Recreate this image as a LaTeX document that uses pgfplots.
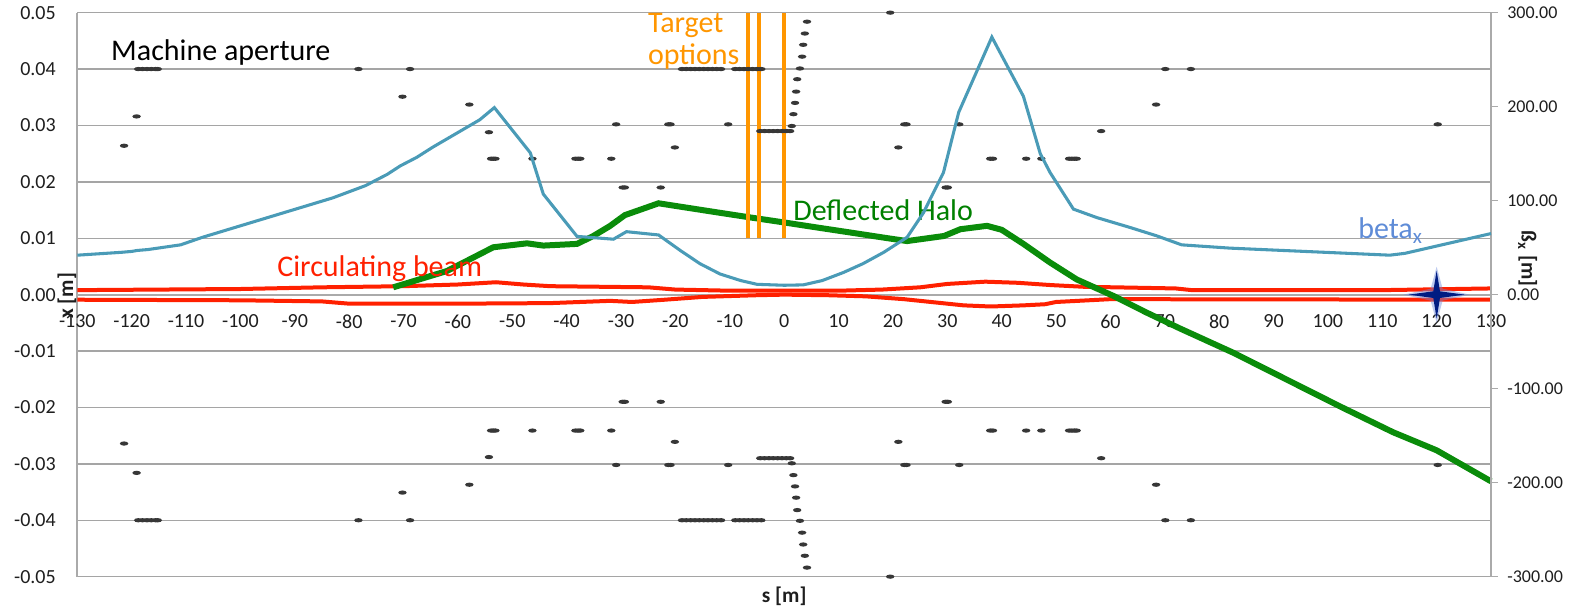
\documentclass[border=0pt]{standalone}
\usepackage{fontspec}
\setmainfont{Carlito}
\usepackage{pgfplots}
\pgfplotsset{compat=1.18}

\definecolor{betacol}{RGB}{74,155,183}
\definecolor{redcol}{RGB}{255,32,0}
\definecolor{greencol}{RGB}{10,140,10}
\definecolor{orangecol}{RGB}{255,150,0}
\definecolor{gridcol}{RGB}{165,165,165}
\definecolor{axiscol}{RGB}{170,170,170}
\definecolor{textcol}{RGB}{30,30,30}
\definecolor{starcol}{RGB}{0,28,130}
\definecolor{starglow}{RGB}{110,140,220}
\definecolor{betatext}{RGB}{95,140,215}
\definecolor{dotcol}{RGB}{55,55,55}
\definecolor{halotext}{RGB}{0,128,0}

\newcommand{\tickfont}{\fontsize{15}{17}\selectfont}
\newcommand{\rtickfont}{\fontsize{13.5}{15}\selectfont}

\pgfdeclareplotmark{aperdot}{%
  \pgfpathellipse{\pgfpointorigin}{\pgfpoint{3.2pt}{0pt}}{\pgfpoint{0pt}{1.6pt}}%
  \pgfusepathqfill}
\pgfdeclareplotmark{star4}{%
  \pgfpathmoveto{\pgfpoint{0pt}{18pt}}%
  \pgfpathlineto{\pgfpoint{2.5pt}{2.5pt}}%
  \pgfpathlineto{\pgfpoint{21pt}{0pt}}%
  \pgfpathlineto{\pgfpoint{2.5pt}{-2.5pt}}%
  \pgfpathlineto{\pgfpoint{0pt}{-18pt}}%
  \pgfpathlineto{\pgfpoint{-2.5pt}{-2.5pt}}%
  \pgfpathlineto{\pgfpoint{-21pt}{0pt}}%
  \pgfpathlineto{\pgfpoint{-2.5pt}{2.5pt}}%
  \pgfpathclose
  \pgfusepathqfill}
\pgfdeclareplotmark{star4glow}{%
  \pgfpathmoveto{\pgfpoint{0pt}{21pt}}%
  \pgfpathlineto{\pgfpoint{4.5pt}{4.5pt}}%
  \pgfpathlineto{\pgfpoint{25pt}{0pt}}%
  \pgfpathlineto{\pgfpoint{4.5pt}{-4.5pt}}%
  \pgfpathlineto{\pgfpoint{0pt}{-21pt}}%
  \pgfpathlineto{\pgfpoint{-4.5pt}{-4.5pt}}%
  \pgfpathlineto{\pgfpoint{-25pt}{0pt}}%
  \pgfpathlineto{\pgfpoint{-4.5pt}{4.5pt}}%
  \pgfpathclose
  \pgfusepathqfill}

\begin{document}
\begin{tikzpicture}
\path[use as bounding box] (-58pt,-25.5pt) rectangle (1133.05pt,432.5pt);

\begin{axis}[
  at={(0pt,0pt)}, anchor=south west,
  scale only axis, width=1060.3pt, height=423pt,
  xmin=-130, xmax=130, ymin=-0.05, ymax=0.05,
  axis x line*=middle, axis y line*=left,
  axis line style={draw=axiscol, line width=1.5pt, -},
  xtick={-130,-120,-110,-100,-90,-80,-70,-60,-50,-40,-30,-20,-10,0,10,20,30,40,50,60,70,80,90,100,110,120,130},
  ytick={-0.05,-0.04,-0.03,-0.02,-0.01,0,0.01,0.02,0.03,0.04,0.05},
  scaled y ticks=false, scaled x ticks=false,
  major tick length=0pt,
  hide obscured x ticks=false, hide obscured y ticks=false,
  ymajorgrids, grid style={draw=gridcol, line width=1pt},
  /pgf/number format/assume math mode=true,
  xticklabel style={font=\tickfont, text=textcol, inner sep=0pt, yshift=-14.75pt},
  yticklabel style={font=\tickfont, text=textcol, /pgf/number format/fixed, /pgf/number format/fixed zerofill, /pgf/number format/precision=2, inner sep=0pt, xshift=-16pt},
  clip=false,
]
% aperture points
\addplot[only marks, mark=aperdot, color=dotcol] coordinates {
(-121.4,0.0264)(-119.1,0.0316)(-118.8,0.04)(-118.0,0.04)(-117.2,0.04)(-116.4,0.04)(-115.6,0.04)(-115.2,0.04)(-78.3,0.04)(-70.2,0.0351)(-68.8,0.04)(-57.9,0.0337)(-54.3,0.0288)(-53.9,0.0241)(-53.5,0.0241)(-53.1,0.0241)(-46.3,0.0241)(-38.4,0.0241)(-37.9,0.0241)(-37.5,0.0241)(-31.8,0.0241)(-30.9,0.0302)(-29.7,0.019)(-29.3,0.019)(-22.7,0.019)(-21.3,0.0302)(-20.9,0.0302)(-20.1,0.0261)(-10.3,0.0302)
(-18.8,0.04)(-18.0,0.04)(-17.2,0.04)(-16.4,0.04)(-15.6,0.04)(-14.8,0.04)(-14.0,0.04)(-13.2,0.04)(-12.4,0.04)(-11.6,0.04)
(-9.0,0.04)(-8.2,0.04)(-7.4,0.04)(-6.6,0.04)(-5.8,0.04)(-5.0,0.04)(-4.2,0.04)
(-4.4,0.029)(-3.6,0.029)(-2.8,0.029)(-2.0,0.029)(-1.2,0.029)(-0.4,0.029)(0.4,0.029)(1.1,0.029)
(1.4,0.0299)(1.7,0.032)(2.0,0.034)(2.2,0.036)(2.4,0.0382)(2.9,0.0401)(3.3,0.0422)(3.5,0.0443)(3.8,0.0463)(4.2,0.0484)
(19.5,0.05)(21.0,0.0261)(22.1,0.0302)(22.5,0.0302)(29.7,0.019)(30.1,0.019)(32.2,0.0302)(37.9,0.0241)(38.4,0.0241)(44.5,0.0241)(47.3,0.0241)(52.4,0.0241)(52.9,0.0241)(53.4,0.0241)(53.8,0.0241)(58.3,0.029)(68.4,0.0337)(70.1,0.04)(74.8,0.04)(120.2,0.0302)
};
\addplot[only marks, mark=aperdot, color=dotcol] coordinates {
(-121.4,-0.0264)(-119.1,-0.0316)(-118.8,-0.04)(-118.0,-0.04)(-117.2,-0.04)(-116.4,-0.04)(-115.6,-0.04)(-115.2,-0.04)(-78.3,-0.04)(-70.2,-0.0351)(-68.8,-0.04)(-57.9,-0.0337)(-54.3,-0.0288)(-53.9,-0.0241)(-53.5,-0.0241)(-53.1,-0.0241)(-46.3,-0.0241)(-38.4,-0.0241)(-37.9,-0.0241)(-37.5,-0.0241)(-31.8,-0.0241)(-30.9,-0.0302)(-29.7,-0.019)(-29.3,-0.019)(-22.7,-0.019)(-21.3,-0.0302)(-20.9,-0.0302)(-20.1,-0.0261)(-10.3,-0.0302)
(-18.8,-0.04)(-18.0,-0.04)(-17.2,-0.04)(-16.4,-0.04)(-15.6,-0.04)(-14.8,-0.04)(-14.0,-0.04)(-13.2,-0.04)(-12.4,-0.04)(-11.6,-0.04)
(-9.0,-0.04)(-8.2,-0.04)(-7.4,-0.04)(-6.6,-0.04)(-5.8,-0.04)(-5.0,-0.04)(-4.2,-0.04)
(-4.4,-0.029)(-3.6,-0.029)(-2.8,-0.029)(-2.0,-0.029)(-1.2,-0.029)(-0.4,-0.029)(0.4,-0.029)(1.1,-0.029)
(1.4,-0.0299)(1.7,-0.032)(2.0,-0.034)(2.2,-0.036)(2.4,-0.0382)(2.9,-0.0401)(3.3,-0.0422)(3.5,-0.0443)(3.8,-0.0463)(4.2,-0.0484)
(19.5,-0.05)(21.0,-0.0261)(22.1,-0.0302)(22.5,-0.0302)(29.7,-0.019)(30.1,-0.019)(32.2,-0.0302)(37.9,-0.0241)(38.4,-0.0241)(44.5,-0.0241)(47.3,-0.0241)(52.4,-0.0241)(52.9,-0.0241)(53.4,-0.0241)(53.8,-0.0241)(58.3,-0.029)(68.4,-0.0337)(70.1,-0.04)(74.8,-0.04)(120.2,-0.0302)
};
% circulating beam
\addplot[redcol, line width=3pt] coordinates {
(-130,0.0008)(-100,0.0010)(-85,0.0013)(-70,0.0015)(-60,0.0018)(-53,0.0022)(-48,0.0018)(-43,0.0015)(-25,0.0013)(-20,0.0009)(-10,0.0007)(0,0.0007)(10,0.0007)(18,0.0009)(25,0.0013)(30,0.0019)(37,0.0023)(43,0.0021)(49,0.0017)(55,0.0014)(72,0.0011)(75,0.0008)(110,0.0008)(130,0.0011)
};
\addplot[redcol, line width=3pt] coordinates {
(-130,-0.0009)(-100,-0.0010)(-85,-0.0012)(-80,-0.0016)(-60,-0.0016)(-43,-0.0015)(-32,-0.0011)(-28,-0.0013)(-22,-0.0009)(-15,-0.0004)(-5,-0.0001)(0,0.0000)(8,-0.0001)(15,-0.0003)(22,-0.0008)(28,-0.0014)(33,-0.0019)(38,-0.0021)(44,-0.0019)(48,-0.0017)(50,-0.0013)(54,-0.0011)(60,-0.0008)(130,-0.0009)
};
% deflected halo
\addplot[greencol, line width=4.5pt] coordinates {
(-71.9,0.0013)(-62,0.0042)(-53.5,0.0084)(-47.3,0.0091)(-44.3,0.0087)(-38.1,0.0090)(-35.1,0.0104)(-32.0,0.0122)(-29.3,0.0141)(-23.1,0.0162)(-19.1,0.0156)(-12.4,0.0146)(-6.3,0.0137)(0,0.0128)(6.1,0.0119)(12.3,0.0110)(18.4,0.0101)(22.6,0.0095)(29.4,0.0104)(32.4,0.0116)(37.3,0.0122)(40,0.0115)(44.0,0.0090)(48.9,0.0057)(53.8,0.0027)(60.5,-0.0002)(66.7,-0.0032)(72.8,-0.0060)(82.6,-0.0103)(102.2,-0.0198)(112,-0.0244)(120,-0.0276)(130,-0.0331)
};
% target options
\addplot[orangecol, line width=3pt] coordinates {(-6.6,0.01)(-6.6,0.05)};
\addplot[orangecol, line width=3pt] coordinates {(-4.6,0.01)(-4.6,0.05)};
\addplot[orangecol, line width=3pt] coordinates {(0.0,0.01)(0.0,0.05)};
% star
\addplot[only marks, mark=star4glow, color=starglow, opacity=0.45] coordinates {(120,0)};
\addplot[only marks, mark=star4, color=starcol] coordinates {(120,0)};

% texts
\node[anchor=base west, inner sep=0pt, font=\fontsize{22.5}{26}\selectfont, text=black] at (axis description cs:0.0238,0.9149) {Machine aperture};
\node[anchor=base west, inner sep=0pt, font=\fontsize{22.5}{26}\selectfont, text=redcol] at (axis description cs:0.1413,0.5314) {Circulating beam};
\node[anchor=base west, inner sep=0pt, font=\fontsize{22.5}{26}\selectfont, text=orangecol] at (axis description cs:0.4035,0.964) {Target};
\node[anchor=base west, inner sep=0pt, font=\fontsize{22.5}{26}\selectfont, text=orangecol] at (axis description cs:0.4035,0.9078) {options};
\node[anchor=base west, inner sep=0pt, font=\fontsize{22.5}{26}\selectfont, text=halotext] at (axis description cs:0.5063,0.6318) {Deflected Halo};
\node[anchor=base west, inner sep=0pt, font=\fontsize{22.5}{26}\selectfont, text=betatext] at (axis description cs:0.9059,0.5987) {beta\textsubscript{x}};
\node[anchor=base, inner sep=0pt, rotate=90, font=\fontsize{16}{19}\selectfont\bfseries, text=textcol] at (axis description cs:-0.003,0.498) {x [m]};
\node[anchor=base, inner sep=0pt, font=\fontsize{16}{19}\selectfont\bfseries, text=textcol] at (axis description cs:0.5,-0.0466) {s [m]};
\node[anchor=base, inner sep=0pt, rotate=-90, font=\fontsize{16}{19}\selectfont\bfseries, text=textcol] at (axis description cs:1.0217,0.5638) {ß\textsubscript{x} [m]};
\end{axis}

\begin{axis}[
  at={(0pt,0pt)}, anchor=south west,
  scale only axis, width=1060.3pt, height=423pt,
  xmin=-130, xmax=130, ymin=-300, ymax=300,
  axis x line=none, axis y line*=right,
  axis line style={draw=axiscol, line width=1.5pt, -},
  xtick=\empty,
  ytick={-300,-200,-100,0,100,200,300},
  scaled y ticks=false,
  major tick length=5pt, tick align=outside,
  tick style={draw=axiscol, line width=1.2pt},
  /pgf/number format/assume math mode=true,
  yticklabel style={font=\rtickfont, text=textcol, /pgf/number format/fixed, /pgf/number format/fixed zerofill, /pgf/number format/precision=2, inner sep=0pt, xshift=7pt},
  clip=false,
]
\addplot[betacol, line width=2.3pt] coordinates {
(-130,42)(-122,45)(-120,46)(-119,47)(-117,48)(-111,53)(-107,61)(-95,82)(-83,103)(-77,116)(-73,128)(-70.6,137)(-67.6,146)(-64.6,157)(-56,186)(-53.3,199)(-46.7,151)(-44.3,107)(-38.1,62)(-31.4,59)(-29,67)(-23.1,63.5)(-19.1,47)(-15.5,33)(-11.8,22)(-8,15)(-5,11)(0,10)(3.5,10.4)(7,15)(10.9,23.6)(14.5,33)(18.3,45)(22.6,61)(25.6,87)(29.3,130)(32.1,194)(38.2,274)(44,211)(47.1,150)(48.9,130)(53.2,91)(57.5,82)(63.6,71.5)(68.5,62.6)(73.1,53)(82,49.5)(111.4,42)(114.2,44)(130,65)
};
\end{axis}
\end{tikzpicture}
\end{document}
